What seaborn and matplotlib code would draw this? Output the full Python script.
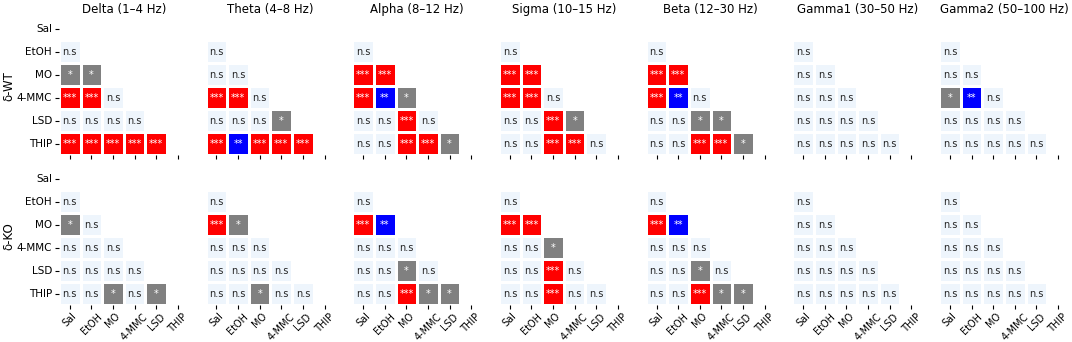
import numpy as np
import pandas as pd
import matplotlib
matplotlib.use("Agg")
import matplotlib.pyplot as plt
import seaborn as sns
from matplotlib.colors import ListedColormap

# Groups compared (rows / columns of each lower-triangle matrix)
drugs = ["Sal", "EtOH", "MO", "4-MMC", "LSD", "THIP"]
bands = [
    "Delta (1–4 Hz)",
    "Theta (4–8 Hz)",
    "Alpha (8–12 Hz)",
    "Sigma (10–15 Hz)",
    "Beta (12–30 Hz)",
    "Gamma1 (30–50 Hz)",
    "Gamma2 (50–100 Hz)",
]
genotypes = ["δ-WT", "δ-KO"]

# Significance per row (EtOH..THIP) vs the preceding drugs
ALL_NS = [["n.s"] * k for k in range(1, 6)]

wt_delta = [["n.s"], ["*", "*"], ["***", "***", "n.s"], ["n.s"] * 4, ["***"] * 5]
wt_theta = [["n.s"], ["n.s", "n.s"], ["***", "***", "n.s"],
            ["n.s", "n.s", "n.s", "*"], ["***", "**", "***", "***", "***"]]
wt_alpha = [["n.s"], ["***", "***"], ["***", "**", "*"],
            ["n.s", "n.s", "***", "n.s"], ["n.s", "n.s", "***", "***", "*"]]
wt_sigma = [["n.s"], ["***", "***"], ["***", "***", "n.s"],
            ["n.s", "n.s", "***", "*"], ["n.s", "n.s", "***", "***", "n.s"]]
wt_beta = [["n.s"], ["***", "***"], ["***", "**", "n.s"],
           ["n.s", "n.s", "*", "*"], ["n.s", "n.s", "***", "***", "*"]]
wt_gamma1 = ALL_NS
wt_gamma2 = [["n.s"], ["n.s", "n.s"], ["*", "**", "n.s"], ["n.s"] * 4, ["n.s"] * 5]

ko_delta = [["n.s"], ["*", "n.s"], ["n.s"] * 3, ["n.s"] * 4,
            ["n.s", "n.s", "*", "n.s", "*"]]
ko_theta = [["n.s"], ["***", "*"], ["n.s"] * 3, ["n.s"] * 4,
            ["n.s", "n.s", "*", "n.s", "n.s"]]
ko_alpha = [["n.s"], ["***", "**"], ["n.s"] * 3, ["n.s", "n.s", "*", "n.s"],
            ["n.s", "n.s", "***", "*", "*"]]
ko_sigma = [["n.s"], ["***", "***"], ["n.s", "n.s", "*"], ["n.s", "n.s", "***", "n.s"],
            ["n.s", "n.s", "***", "n.s", "n.s"]]
ko_beta = [["n.s"], ["***", "**"], ["n.s"] * 3, ["n.s", "n.s", "*", "n.s"],
           ["n.s", "n.s", "***", "*", "*"]]
ko_gamma1 = ALL_NS
ko_gamma2 = ALL_NS

panels = [
    [wt_delta, wt_theta, wt_alpha, wt_sigma, wt_beta, wt_gamma1, wt_gamma2],
    [ko_delta, ko_theta, ko_alpha, ko_sigma, ko_beta, ko_gamma1, ko_gamma2],
]

level = {"n.s": 0, "*": 1, "**": 2, "***": 3}
cmap = ListedColormap(["#eef5fc", "#808080", "#0000ff", "#ff0000"])

n = len(drugs)
mask = np.triu(np.ones((n, n), dtype=bool))

fig, axes = plt.subplots(2, 7, figsize=(10.72, 3.42), dpi=100)
plt.subplots_adjust(left=0.055, right=0.997, top=0.949, bottom=0.108,
                    wspace=0.131, hspace=0.084)

for r, row in enumerate(panels):
    for c, tri in enumerate(row):
        ax = axes[r, c]
        vals = np.full((n, n), np.nan)
        labels = np.full((n, n), "", dtype=object)
        for i, entries in enumerate(tri, start=1):
            for j, s in enumerate(entries):
                vals[i, j] = level[s]
                labels[i, j] = s
        df = pd.DataFrame(vals, index=drugs, columns=drugs)
        sns.heatmap(df, mask=mask, cmap=cmap, vmin=-0.5, vmax=3.5,
                    annot=labels, fmt="", cbar=False, linewidths=1,
                    linecolor="white", ax=ax, annot_kws={"size": 7})
        ax.tick_params(axis="both", length=3, width=0.8, pad=2, labelsize=7.5)
        if c == 0:
            ax.set_yticklabels(drugs, rotation=0)
            ax.set_ylabel(genotypes[r], fontsize=8.5, labelpad=1)
        else:
            ax.tick_params(axis="y", left=False, labelleft=False)
            ax.set_ylabel("")
        if r == 0:
            ax.set_title(bands[c], fontsize=8.5, pad=3)
            ax.tick_params(axis="x", labelbottom=False)
        else:
            ax.set_xticklabels(drugs, rotation=45, ha="center", fontsize=7)
            ax.tick_params(axis="x", pad=1.5)

fig.savefig("out.png", dpi=100)
